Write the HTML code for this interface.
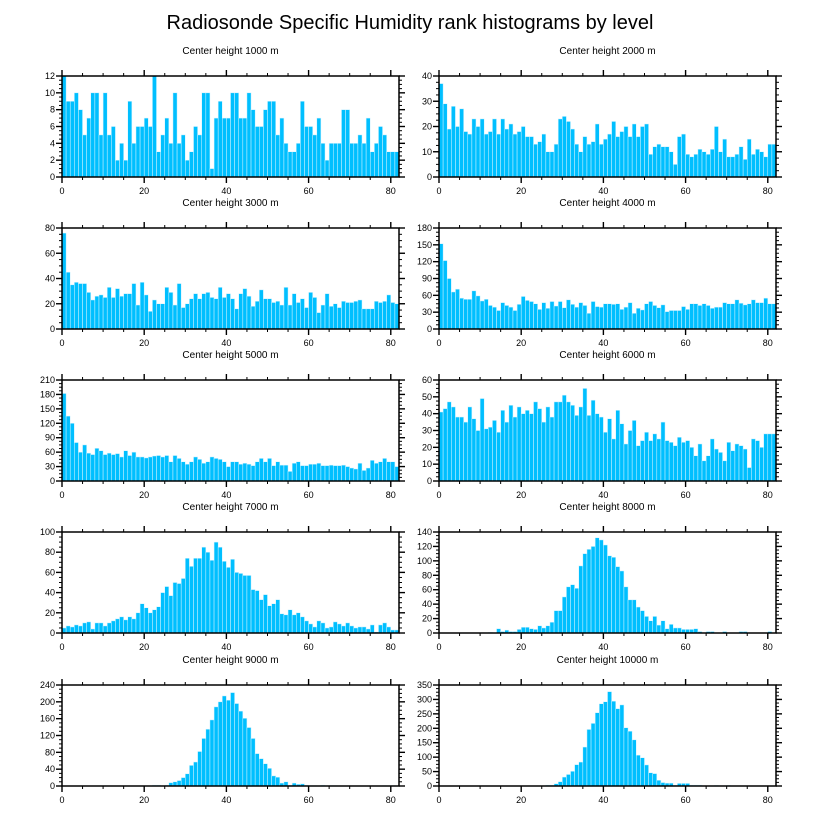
<!DOCTYPE html>
<html><head><meta charset="utf-8">
<style>
html,body{margin:0;padding:0;background:#fff;}
svg{display:block;font-family:"Liberation Sans",Arial,sans-serif;}
</style></head>
<body>
<svg id="chart" width="816" height="824" viewBox="0 0 816 824">
<text x="410" y="29" font-size="20" text-anchor="middle">Radiosonde Specific Humidity rank histograms by level</text>
</svg>
<script>
const panelTitles = ["Center height 1000 m","Center height 2000 m","Center height 3000 m","Center height 4000 m","Center height 5000 m","Center height 6000 m","Center height 7000 m","Center height 8000 m","Center height 9000 m","Center height 10000 m"];
const yMaxes = [12,40,80,180,210,60,100,140,240,350];
const yStepValues = [2,10,20,30,30,10,20,20,40,50];
const xTickValues = [0,20,40,60,80];
const counts1000 = [12,9,9,10,8,5,7,10,10,5,10,5,6,2,4,2,9,4,6,6,7,6,12,3,5,7,4,10,4,5,2,3,6,5,10,10,1,7,9,7,7,10,10,7,7,10,8,6,6,8,9,9,5,7,4,3,3,4,9,6,6,5,7,4,2,4,4,4,8,8,4,4,5,4,7,3,4,6,5,3,3,3];
const counts2000 = [37,29,19,28,20,27,18,17,23,20,23,17,18,23,17,23,19,21,17,18,20,16,16,13,14,17,10,10,13,23,24,22,19,13,10,16,13,14,21,13,15,17,22,16,18,20,16,21,16,20,21,9,12,13,12,12,10,5,16,17,9,8,9,11,10,9,11,20,10,15,8,8,9,12,7,15,9,11,10,8,13,13];
const counts3000 = [76,45,35,37,36,36,29,23,26,27,25,33,25,32,26,28,28,36,19,37,27,14,23,20,20,33,29,19,36,17,20,24,28,24,28,29,25,24,33,25,28,24,16,28,32,26,18,22,31,24,24,21,22,19,33,19,28,21,24,17,29,25,13,19,28,18,20,17,22,21,21,22,23,16,16,16,22,21,22,27,21,20];
const counts4000 = [152,122,90,66,71,55,53,53,68,59,50,53,42,39,33,47,42,39,33,44,58,51,49,45,35,47,37,49,41,49,38,52,44,39,47,42,28,49,40,39,45,45,44,45,35,39,47,28,37,34,45,49,42,38,43,31,33,33,33,40,35,45,45,42,45,42,37,39,39,47,45,45,52,46,43,45,52,47,47,55,45,45];
const counts5000 = [182,135,120,80,60,75,58,55,68,63,55,58,55,57,50,63,53,60,50,50,48,50,52,53,50,53,40,53,47,40,35,40,50,45,37,40,50,47,45,40,30,40,40,35,37,35,32,40,47,40,47,32,40,33,33,20,37,40,32,32,35,35,37,32,32,33,32,32,33,30,27,25,37,22,27,43,37,40,47,40,40,30];
const counts6000 = [41,43,47,44,38,38,35,44,37,30,49,31,32,36,29,42,35,45,38,44,40,42,40,47,43,35,44,38,47,47,51,47,45,39,44,55,39,48,40,38,29,37,25,42,34,22,30,36,21,24,29,24,28,25,35,24,23,21,26,23,24,20,15,22,12,15,25,19,17,12,23,18,22,21,19,8,25,24,20,28,28,28];
const counts7000 = [5,7,6,8,7,10,11,4,10,10,7,10,12,14,16,13,16,14,20,29,25,20,23,26,40,46,37,50,49,54,74,66,74,74,85,80,72,90,85,71,65,73,60,59,57,57,43,42,33,38,27,29,33,19,18,23,18,20,16,12,9,6,12,10,5,6,11,9,7,10,7,5,6,6,4,8,1,8,10,6,3,3];
const counts8000 = [0,0,0,0,0,0,0,0,0,0,0,0,1,0,6,2,4,2,2,5,8,8,6,5,10,7,10,15,31,31,50,64,67,62,93,110,116,120,132,129,122,107,105,92,86,64,46,46,36,31,23,17,23,11,17,6,12,7,7,5,5,5,6,2,0,2,2,0,0,2,0,0,0,2,2,0,0,0,0,0,2,0];
const counts9000 = [0,0,0,0,0,0,0,0,0,0,0,0,0,0,0,0,0,0,0,0,0,0,2,2,0,2,8,10,13,20,29,49,57,82,113,135,157,188,200,214,204,222,196,178,161,139,113,77,65,53,42,24,21,7,10,2,7,4,5,2,1,1,0,2,0,1,1,0,0,0,0,0,0,0,0,0,0,0,1,0,1,0];
const counts10000 = [0,0,0,0,0,0,0,0,0,0,0,0,0,0,0,0,0,0,0,0,0,0,0,0,0,0,3,3,8,15,31,40,51,74,83,135,196,217,254,285,292,327,294,268,281,202,190,160,107,98,73,46,43,20,12,10,10,3,9,9,9,3,3,3,0,0,0,2,0,0,2,0,0,0,0,0,0,0,0,0,0,0];
const allCounts = [counts1000,counts2000,counts3000,counts4000,counts5000,counts6000,counts7000,counts8000,counts9000,counts10000];

const NS = "http://www.w3.org/2000/svg";
const svg = document.getElementById('chart');
function mk(tag, attrs, parent){const e=document.createElementNS(NS,tag);for(const k in attrs)e.setAttribute(k,attrs[k]);parent.appendChild(e);return e;}
const lefts=[62,439], tops=[76,228,380,532,685], W=337, H=101, XMAX=82;

for(let p=0;p<10;p++){
  const L=lefts[p%2], T=tops[Math.floor(p/2)];
  const ymax=yMaxes[p], step=yStepValues[p], data=allCounts[p];
  const xs=v=>L+v/XMAX*W;
  const ys=v=>T+H-v/ymax*H;
  const g=mk('g',{},svg);
  
  
  const t=mk('text',{x:L+W/2,y:T-22,'font-size':10,'text-anchor':'middle'},g);
  t.textContent=panelTitles[p];
  
  
  for(let i=0;i<data.length;i++){
    if(data[i]<=0) continue;
    const r=mk('rect',{x:xs(i),y:ys(data[i]),width:xs(i+1)-xs(i),height:ys(0)-ys(data[i]),fill:'#00bfff',stroke:'#d8f4ff','stroke-width':0.5},g);
    
    
  }
  for(let v=0;v<=XMAX;v+=5){
    const major=v%20===0, len=major?6:3;
    mk('line',{x1:xs(v),x2:xs(v),y1:T+H,y2:T+H+len,stroke:'#000','stroke-width':major?1.4:1},g);
    mk('line',{x1:xs(v),x2:xs(v),y1:T,y2:T-len,stroke:'#000','stroke-width':major?1.4:1},g);
  }
  for(const v of xTickValues){
    const tl=mk('text',{x:xs(v),y:T+H+17,'font-size':9,'text-anchor':'middle'},g);
    tl.textContent=v;
    
    
  }
  const minor=step/4;
  for(let k=0;k*minor<=ymax+1e-9;k++){
    const v=k*minor, major=k%4===0, len=major?6:3;
    mk('line',{x1:L,x2:L-len,y1:ys(v),y2:ys(v),stroke:'#000','stroke-width':major?1.4:1},g);
    mk('line',{x1:L+W,x2:L+W+len,y1:ys(v),y2:ys(v),stroke:'#000','stroke-width':major?1.4:1},g);
  }
  for(let v=0;v<=ymax+1e-9;v+=step){
    const yl=mk('text',{x:L-7,y:ys(v)+3,'font-size':9,'text-anchor':'end'},g);
    yl.textContent=v;
    
    
  }
  const f=mk('rect',{x:L,y:T,width:W,height:H,fill:'none',stroke:'#000','stroke-width':1.5},g);
  
  
}
</script>
</body></html>
